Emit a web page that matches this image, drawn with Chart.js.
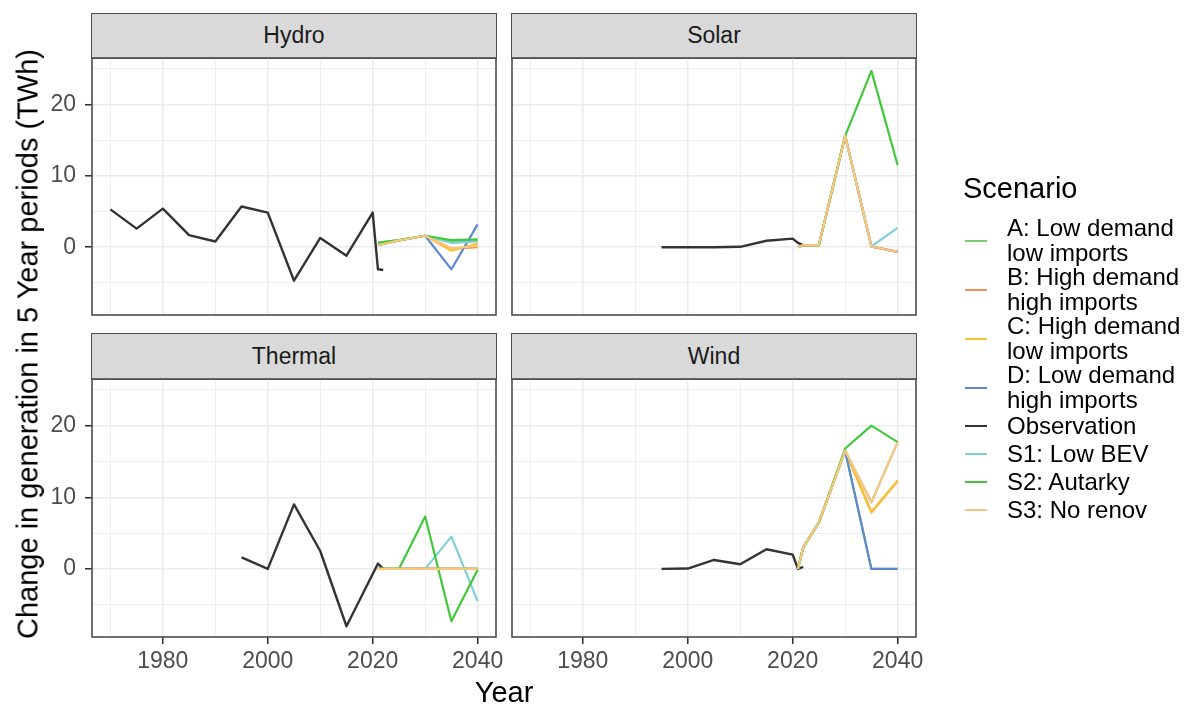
<!DOCTYPE html>
<html>
<head>
<meta charset="utf-8">
<script src="https://cdn.jsdelivr.net/npm/chart.js@4.4.1/dist/chart.umd.min.js"></script>
<style>
  html, body { margin: 0; padding: 0; background: #ffffff; }
  body { width: 1184px; height: 707px; position: relative; overflow: hidden;
         font-family: "Liberation Sans", Arial, sans-serif; }
  canvas { position: absolute; left: 0; top: 0; pointer-events: none; }
  .strip { position: absolute; box-sizing: border-box; background: #d9d9d9;
           border: 1.6px solid #4d4d4d; color: #1a1a1a; font-size: 23px;
           display: flex; align-items: center; justify-content: center; }
  .ytitle { position: absolute; white-space: nowrap; font-size: 29px; color: #000;
            transform: translate(-50%, -50%) rotate(-90deg); line-height: 1; }
  .xtitle { position: absolute; white-space: nowrap; font-size: 29px; color: #000;
            transform: translate(-50%, -50%); line-height: 1; }
  .legend { position: absolute; left: 963px; top: 172px; color: #000; }
  .legend .ltitle { font-size: 29px; line-height: 32px; height: 44px; }
  .legend .item { display: flex; align-items: center; }
  .legend .key { width: 44px; height: 100%; position: relative; flex: none; }
  .legend .key span { position: absolute; left: 2px; width: 22px; height: 2px; top: 50%; margin-top: -1px; }
  .legend .txt { font-size: 24px; white-space: pre-line; }
</style>
</head>
<body>
<script>
// ---- facets, series and axis ticks ----
const facetNames = ['Hydro', 'Solar', 'Thermal', 'Wind'];
const seriesNames = [
  'A: Low demand\nlow imports',
  'B: High demand\nhigh imports',
  'C: High demand\nlow imports',
  'D: Low demand\nhigh imports',
  'Observation',
  'S1: Low BEV',
  'S2: Autarky',
  'S3: No renov'
];
const seriesColors = ['#80c974', '#f0915f', '#fbc02d', '#5d89d0', '#333333', '#7fcfd8', '#42c93a', '#fbc57a'];

const yearTicks = [1970, 1980, 1990, 2000, 2010, 2020, 2030, 2040];
const yearLabels = [1980, 2000, 2020, 2040];
const valueTicks = [-5, 0, 5, 10, 15, 20, 25];
const valueLabels = [0, 10, 20];

const scenarioYears = [2021, 2022, 2025, 2030, 2035, 2040];

// ---- Hydro ----
const hydroObsYears = [1970, 1975, 1980, 1985, 1990, 1995, 2000, 2005, 2010, 2015, 2020, 2021, 2022];
const hydroObs = [5.3, 2.6, 5.4, 1.7, 0.8, 5.7, 4.85, -4.7, 1.3, -1.2, 4.85, -3.1, -3.2];
const hydroA  = [0.6, 0.7, 1.0, 1.6, 0.8, 0.9];
const hydroB  = [0.3, 0.45, 0.95, 1.6, -0.2, 0.0];
const hydroC  = [0.3, 0.45, 0.95, 1.6, -0.5, 0.5];
const hydroD  = [0.3, 0.45, 0.95, 1.6, -3.1, 3.2];
const hydroS1 = [0.3, 0.45, 0.95, 1.6, 0.6, 0.8];
const hydroS2 = [0.6, 0.7, 1.0, 1.6, 1.0, 1.1];
const hydroS3 = [0.3, 0.45, 0.95, 1.6, -0.2, 0.2];

// ---- Solar ----
const solarObsYears = [1995, 2000, 2005, 2010, 2015, 2020, 2021, 2022];
const solarObs = [0, 0, 0, 0.05, 0.9, 1.2, 0.6, 0.3];
const solarA  = [0, 0.3, 0.3, 15.6, 0.1, -0.65];
const solarB  = [0, 0.3, 0.3, 15.6, 0.1, -0.65];
const solarC  = [0, 0.3, 0.3, 15.6, 0.1, -0.65];
const solarD  = [0, 0.3, 0.3, 15.6, 0.1, -0.65];
const solarS1 = [0, 0.3, 0.3, 15.6, 0.1, 2.7];
const solarS2 = [0, 0.3, 0.3, 15.6, 24.7, 11.5];
const solarS3 = [0, 0.3, 0.3, 15.6, 0.1, -0.65];

// ---- Thermal ----
const thermalObsYears = [1995, 2000, 2005, 2010, 2015, 2020, 2021, 2022];
const thermalObs = [1.6, 0, 9.0, 2.5, -8.0, -0.7, 0.75, 0];
const thermalA  = [0, 0, 0, 0, 0, 0];
const thermalB  = [0, 0, 0, 0, 0, 0];
const thermalC  = [0, 0, 0, 0, 0, 0];
const thermalD  = [0, 0, 0, 0, 0, 0];
const thermalS1 = [0, 0, 0, 0, 4.5, -4.5];
const thermalS2 = [0, 0, 0, 7.3, -7.3, -0.1];
const thermalS3 = [0, 0, 0, 0, 0, 0];

// ---- Wind ----
const windObsYears = [1995, 2000, 2005, 2010, 2015, 2020, 2021, 2022];
const windObs = [0, 0.05, 1.25, 0.65, 2.75, 2.0, 0, 0.3];
const windA  = [0, 3.0, 6.5, 16.5, 0, 0];
const windB  = [0, 3.0, 6.5, 16.5, 7.9, 12.3];
const windC  = [0, 3.0, 6.5, 16.5, 7.9, 12.3];
const windD  = [0, 3.0, 6.5, 16.5, 0, 0];
const windS1 = [0, 3.0, 6.5, 16.5, 9.3, 17.7];
const windS2 = [0, 3.0, 6.5, 16.8, 20.0, 17.7];
const windS3 = [0, 3.0, 6.5, 16.5, 9.3, 17.7];

const facetData = {
  Hydro:   { obsYears: hydroObsYears,   obs: hydroObs,   scen: [hydroA, hydroB, hydroC, hydroD, hydroS1, hydroS2, hydroS3] },
  Solar:   { obsYears: solarObsYears,   obs: solarObs,   scen: [solarA, solarB, solarC, solarD, solarS1, solarS2, solarS3] },
  Thermal: { obsYears: thermalObsYears, obs: thermalObs, scen: [thermalA, thermalB, thermalC, thermalD, thermalS1, thermalS2, thermalS3] },
  Wind:    { obsYears: windObsYears,    obs: windObs,    scen: [windA, windB, windC, windD, windS1, windS2, windS3] }
};

// ---- page layout of the 2x2 facet grid ----
const W = 1184, H = 707;
const AXIS_W = 60, AXIS_H = 44;
const panelBoxes = [
  { left: 92,  top: 58,  right: 496, bottom: 315, stripTop: 13,  axisY: true,  axisX: false },
  { left: 512, top: 58,  right: 916, bottom: 315, stripTop: 13,  axisY: false, axisX: false },
  { left: 92,  top: 379, right: 496, bottom: 637, stripTop: 333, axisY: true,  axisX: true },
  { left: 512, top: 379, right: 916, bottom: 637, stripTop: 333, axisY: false, axisX: true }
];
const FONT = '"Liberation Sans", Arial, sans-serif';

const panelBorder = {
  id: 'panelBorder',
  afterDraw(chart) {
    const a = chart.chartArea, ctx = chart.ctx;
    ctx.save();
    ctx.strokeStyle = '#4d4d4d';
    ctx.lineWidth = 1.6;
    ctx.strokeRect(a.left, a.top, a.right - a.left, a.bottom - a.top);
    ctx.restore();
  }
};

function toPoints(xs, ys) {
  return xs.map((x, i) => ({ x: x, y: ys[i] }));
}

function buildDatasets(facet) {
  const d = facetData[facet];
  let s = 0;
  return seriesNames.map((name, i) => {
    const pts = name === 'Observation'
      ? toPoints(d.obsYears, d.obs)
      : toPoints(scenarioYears, d.scen[s++]);
    return {
      label: name.replace('\n', ' '),
      data: pts,
      borderColor: seriesColors[i],
      backgroundColor: seriesColors[i],
      borderWidth: name === 'Observation' ? 2.4 : 2.2,
      pointRadius: 0,
      tension: 0,
      fill: false,
      borderJoinStyle: 'round',
      order: seriesNames.length - 1 - i
    };
  });
}

facetNames.forEach((facet, idx) => {
  const box = panelBoxes[idx];

  const strip = document.createElement('div');
  strip.className = 'strip';
  strip.style.left = (box.left - 0.8) + 'px';
  strip.style.top = box.stripTop + 'px';
  strip.style.width = (box.right - box.left + 1.6) + 'px';
  strip.style.height = (box.top - box.stripTop + 0.8) + 'px';
  strip.textContent = facet;
  document.body.appendChild(strip);

  const cv = document.createElement('canvas');
  cv.width = W; cv.height = H;
  document.body.appendChild(cv);

  new Chart(cv, {
    type: 'line',
    data: { datasets: buildDatasets(facet) },
    plugins: [panelBorder],
    options: {
      responsive: false,
      animation: false,
      events: [],
      layout: { padding: {
        left: box.left - AXIS_W, top: box.top,
        right: W - box.right, bottom: H - box.bottom - AXIS_H } },
      plugins: { legend: { display: false }, tooltip: { enabled: false } },
      scales: {
        x: {
          type: 'linear', min: 1966.5, max: 2043.5,
          afterBuildTicks: s => { s.ticks = yearTicks.map(v => ({ value: v })); },
          afterFit: s => { s.height = AXIS_H; s.paddingLeft = 0; s.paddingRight = 0; },
          border: { display: false },
          grid: {
            color: '#ebebeb',
            lineWidth: c => yearLabels.includes(c.tick.value) ? 1.5 : 0.8,
            drawTicks: box.axisX,
            tickLength: 7,
            tickWidth: 1.6,
            tickColor: c => yearLabels.includes(c.tick.value) ? '#333333' : 'rgba(0,0,0,0)'
          },
          ticks: {
            display: box.axisX,
            autoSkip: false, maxRotation: 0, padding: 4,
            color: '#4d4d4d',
            font: { family: FONT, size: 23 },
            callback: v => yearLabels.includes(v) ? String(v) : ''
          }
        },
        y: {
          type: 'linear', min: -9.5, max: 26.5,
          afterBuildTicks: s => { s.ticks = valueTicks.map(v => ({ value: v })); },
          afterFit: s => { s.width = AXIS_W; s.paddingTop = 0; s.paddingBottom = 0; },
          border: { display: false },
          grid: {
            color: '#ebebeb',
            lineWidth: c => valueLabels.includes(c.tick.value) ? 1.5 : 0.8,
            drawTicks: box.axisY,
            tickLength: 7,
            tickWidth: 1.6,
            tickColor: c => valueLabels.includes(c.tick.value) ? '#333333' : 'rgba(0,0,0,0)'
          },
          ticks: {
            display: box.axisY,
            autoSkip: false, padding: 9,
            color: '#4d4d4d',
            font: { family: FONT, size: 23 },
            callback: v => valueLabels.includes(v) ? String(v) : ''
          }
        }
      }
    }
  });
});

// ---- axis titles ----
const yTitle = document.createElement('div');
yTitle.className = 'ytitle';
yTitle.style.left = '28px';
yTitle.style.top = '344px';
yTitle.textContent = 'Change in generation in 5 Year periods (TWh)';
document.body.appendChild(yTitle);

const xTitle = document.createElement('div');
xTitle.className = 'xtitle';
xTitle.style.left = '504px';
xTitle.style.top = '692px';
xTitle.textContent = 'Year';
document.body.appendChild(xTitle);

// ---- shared legend ----
const legend = document.createElement('div');
legend.className = 'legend';
const lt = document.createElement('div');
lt.className = 'ltitle';
lt.textContent = 'Scenario';
legend.appendChild(lt);
seriesNames.forEach((name, i) => {
  const twoLine = name.includes('\n');
  const item = document.createElement('div');
  item.className = 'item';
  item.style.height = twoLine ? '49px' : '28px';
  const key = document.createElement('div');
  key.className = 'key';
  const line = document.createElement('span');
  line.style.background = seriesColors[i];
  key.appendChild(line);
  const txt = document.createElement('div');
  txt.className = 'txt';
  txt.style.lineHeight = twoLine ? '24.5px' : '28px';
  txt.textContent = name;
  item.appendChild(key);
  item.appendChild(txt);
  legend.appendChild(item);
});
document.body.appendChild(legend);
</script>
</body>
</html>
